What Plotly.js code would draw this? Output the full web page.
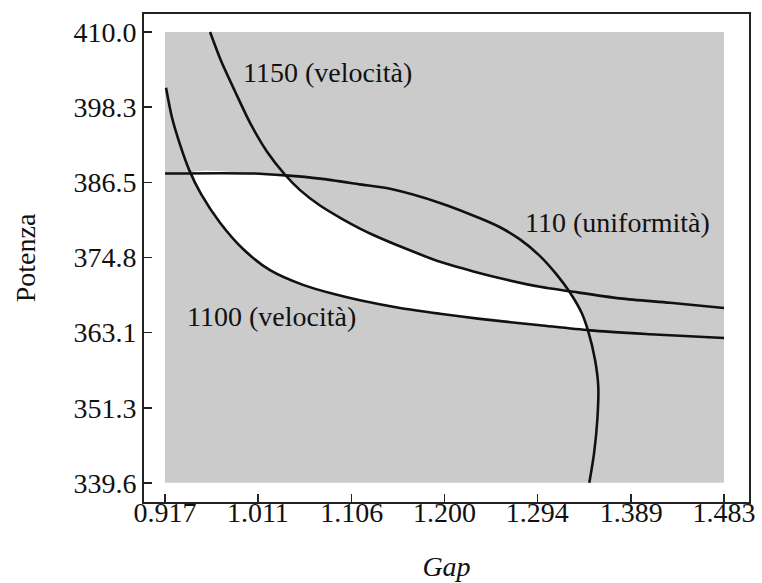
<!DOCTYPE html>
<html><head><meta charset="utf-8">
<script src="https://cdn.plot.ly/plotly-3.0.1.min.js"></script>
<style>html,body{margin:0;padding:0;background:#fff}#chart{width:762px;height:583px}</style>
</head><body><div id="chart"></div>
<script>
// Tick values and labels
const xTicks = [0.917, 1.011, 1.106, 1.200, 1.294, 1.389, 1.483];
const xTickLabels = ["0.917", "1.011", "1.106", "1.200", "1.294", "1.389", "1.483"];
const yTicks = [339.6, 351.3, 363.1, 374.8, 386.5, 398.3, 410.0];
const yTickLabels = ["339.6", "351.3", "363.1", "374.8", "386.5", "398.3", "410.0"];

// Contour 1100 (velocità)
const v1100X = [0.918, 0.9241, 0.9322, 0.9413, 0.9534, 0.9727, 0.996, 1.0233, 1.0567, 1.0871, 1.1144, 1.1549, 1.1954, 1.2359, 1.2967, 1.3473, 1.4081, 1.483];
const v1100Y = [401.3, 396.6, 392.4, 388.5, 384.7, 380.2, 376.1, 372.8, 370.5, 369.1, 368.1, 366.9, 366.0, 365.2, 364.2, 363.4, 362.8, 362.2];

// Contour 1150 (velocità)
const v1150X = [0.9626, 0.9737, 0.9879, 1.0031, 1.0203, 1.0385, 1.0537, 1.0739, 1.0975, 1.1144, 1.1279, 1.1617, 1.1954, 1.2292, 1.263, 1.2967, 1.327, 1.3777, 1.4283, 1.483];
const v1150Y = [410.0, 405.5, 400.7, 395.8, 391.3, 387.7, 385.3, 382.9, 380.7, 379.3, 378.3, 376.1, 374.1, 372.6, 371.3, 370.2, 369.5, 368.4, 367.7, 366.9];

// Contour 110 (uniformità)
const u110X = [0.917, 1.0061, 1.0385, 1.0739, 1.1144, 1.1448, 1.1954, 1.2359, 1.2562, 1.2764, 1.2967, 1.3136, 1.327, 1.3389, 1.3456, 1.3524, 1.3557, 1.3547, 1.3514, 1.3466];
const u110Y = [387.9, 387.9, 387.6, 387.1, 386.2, 385.5, 383.3, 380.9, 379.5, 377.6, 375.0, 372.1, 369.3, 366.1, 363.2, 358.8, 354.6, 349.4, 344.2, 339.6];

// Curve labels
const curveLabels = ["1150 (velocità)", "110 (uniformità)", "1100 (velocità)"];
const labelX = [1.082, 1.375, 1.025];
const labelY = [403.6, 380.2, 365.5];

// ---- geometry helpers (feasible region built from the curves) ----
function segInt(x1,y1,x2,y2,x3,y3,x4,y4){
  const d = (x2-x1)*(y4-y3) - (y2-y1)*(x4-x3);
  if (Math.abs(d) < 1e-12) return null;
  const t = ((x3-x1)*(y4-y3) - (y3-y1)*(x4-x3)) / d;
  const u = ((x3-x1)*(y2-y1) - (y3-y1)*(x2-x1)) / d;
  if (t < 0 || t > 1 || u < 0 || u > 1) return null;
  return {t:t, u:u};
}
function intersections(ax, ay, bx, by){
  const res = [];
  for (let i=0;i<ax.length-1;i++) for (let j=0;j<bx.length-1;j++){
    const p = segInt(ax[i],ay[i],ax[i+1],ay[i+1],bx[j],by[j],bx[j+1],by[j+1]);
    if (p) res.push({ta:i+p.t, tb:j+p.u});
  }
  return res.sort((a,b)=>a.ta-b.ta);
}
function pointAt(xs, ys, t){
  const i = Math.min(Math.floor(t), xs.length-2), f = t - i;
  return [xs[i] + (xs[i+1]-xs[i])*f, ys[i] + (ys[i+1]-ys[i])*f];
}
function subpath(xs, ys, t0, t1){
  const lo = Math.min(t0,t1), hi = Math.max(t0,t1);
  const pts = [pointAt(xs,ys,lo)];
  for (let k=Math.floor(lo)+1; k<hi; k++) pts.push([xs[k], ys[k]]);
  pts.push(pointAt(xs,ys,hi));
  return t0 <= t1 ? pts : pts.reverse();
}
const iU1100 = intersections(u110X, u110Y, v1100X, v1100Y);
const iU1150 = intersections(u110X, u110Y, v1150X, v1150Y);
const P1 = iU1100[0], P4 = iU1100[iU1100.length-1];
const P2 = iU1150[0], P3 = iU1150[iU1150.length-1];
const region = [].concat(
  subpath(u110X, u110Y, P1.ta, P2.ta),
  subpath(v1150X, v1150Y, P2.tb, P3.tb),
  subpath(u110X, u110Y, P3.ta, P4.ta),
  subpath(v1100X, v1100Y, P4.tb, P1.tb)
);

const xMin = xTicks[0], xMax = xTicks[xTicks.length-1];
const yMin = yTicks[0], yMax = yTicks[yTicks.length-1];

const lineStyle = {color:'#111', width:2.6, shape:'spline', smoothing:0.8};
const traces = [
  {x:[xMin,xMax,xMax,xMin,xMin], y:[yMin,yMin,yMax,yMax,yMin], mode:'none', fill:'toself',
   fillcolor:'#cbcbcb', hoverinfo:'skip'},
  {x:region.map(p=>p[0]), y:region.map(p=>p[1]), mode:'lines', fill:'toself',
   line:{color:'rgba(0,0,0,0)', width:0, shape:'spline', smoothing:0.8},
   fillcolor:'#ffffff', hoverinfo:'skip'},
  {x:v1100X, y:v1100Y, mode:'lines', line:lineStyle},
  {x:v1150X, y:v1150Y, mode:'lines', line:lineStyle},
  {x:u110X, y:u110Y, mode:'lines', line:lineStyle}
];

const fontFam = '"Liberation Serif", "Times New Roman", "DejaVu Serif", serif';
const annotations = curveLabels.map((t,i)=>({
  x:labelX[i], y:labelY[i], xref:'x', yref:'y', text:t, showarrow:false,
  font:{family:fontFam, size:28, color:'#111'}
}));

const axisCommon = {
  ticks:'inside', ticklen:8, tickwidth:1.5, tickcolor:'#222',
  showline:true, mirror:true, linecolor:'#222', linewidth:2,
  showgrid:false, zeroline:false, tickfont:{family:fontFam, size:28, color:'#111'}
};
const layout = {
  width:762, height:583,
  margin:{l:144, r:13, t:14, b:81},
  paper_bgcolor:'#ffffff', plot_bgcolor:'#ffffff',
  showlegend:false,
  font:{family:fontFam, size:28, color:'#111'},
  xaxis:Object.assign({}, axisCommon, {
    range:[0.8957, 1.5083], tickvals:xTicks, ticktext:xTickLabels,
    ticklabelstandoff:-16,
    title:{text:'<i>Gap</i>', font:{family:fontFam, size:28, color:'#111'}, standoff:30}
  }),
  yaxis:Object.assign({}, axisCommon, {
    range:[336.6, 412.8], tickvals:yTicks, ticktext:yTickLabels,
    title:{text:'Potenza', font:{family:fontFam, size:28, color:'#111'}, standoff:30}
  }),
  annotations:annotations
};
Plotly.newPlot('chart', traces, layout, {staticPlot:true, displayModeBar:false});
</script>
</body></html>
